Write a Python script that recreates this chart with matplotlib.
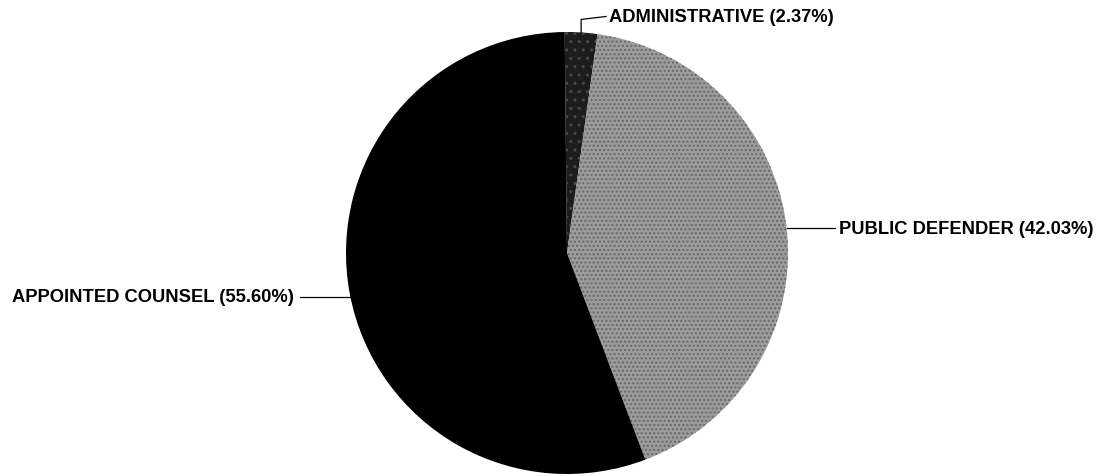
import matplotlib
matplotlib.use("Agg")
import matplotlib.pyplot as plt
import numpy as np

labels = ["ADMINISTRATIVE", "PUBLIC DEFENDER", "APPOINTED COUNSEL"]
shares = [2.37, 42.03, 55.60]
colors = ["#1c1c1c", "#9c9c9c", "#000000"]

plt.rcParams["font.family"] = ["Liberation Sans", "DejaVu Sans"]

fig = plt.figure(figsize=(11, 4.77), dpi=100)
ax = fig.add_axes([0, 0, 1, 1])

cx, cy, r = 567, 223, 221
wedges, _ = ax.pie(shares, colors=colors, startangle=90.6, counterclock=False,
                   center=(cx, cy), radius=r, frame=True,
                   wedgeprops=dict(linewidth=0))
ax.set_xlim(0, 1100)
ax.set_ylim(0, 477)
ax.axis("off")
wedges[1].set_hatch("....")
wedges[1].set_edgecolor("#666666")
wedges[0].set_hatch("..")
wedges[0].set_edgecolor("#4a4a4a")

fs = 13.2
for w, lab, s in zip(wedges, labels, shares):
    mid = np.deg2rad((w.theta1 + w.theta2) / 2)
    px, py = cx + r * np.cos(mid), cy + r * np.sin(mid)
    txt = f"{lab} ({s:.2f}%)"
    if lab == "ADMINISTRATIVE":
        ax.plot([px, px, px + 25], [py, py + 13, py + 16], color="black", lw=0.9)
        ax.text(px + 28, py + 16, txt, ha="left", va="center",
                fontsize=fs, fontweight="bold")
    elif np.cos(mid) > 0:
        ax.plot([px, px + 48], [py, py], color="black", lw=0.9)
        ax.text(px + 52, py, txt, ha="left", va="center",
                fontsize=fs, fontweight="bold")
    else:
        ax.plot([px, px - 50], [py - 3, py - 3], color="black", lw=0.9)
        ax.text(px - 56, py - 3, txt, ha="right", va="center",
                fontsize=fs, fontweight="bold")

fig.savefig("out.png", dpi=100)
